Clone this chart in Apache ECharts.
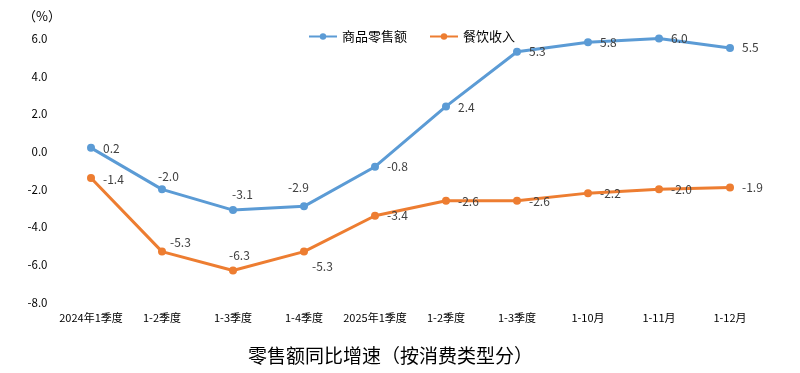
<!DOCTYPE html>
<html><head><meta charset="utf-8">
<script src="https://cdn.jsdelivr.net/npm/echarts@6/dist/echarts.min.js"></script>
<style>html,body{margin:0;padding:0;background:#fff}#c{width:800px;height:373px}</style>
</head><body><div id="c"></div>
<script>
var categories = ['2024年1季度','1-2季度','1-3季度','1-4季度','2025年1季度','1-2季度','1-3季度','1-10月','1-11月','1-12月'];
var goodsRetail = [0.2, -2.0, -3.1, -2.9, -0.8, 2.4, 5.3, 5.8, 6.0, 5.5];
var catering = [-1.4, -5.3, -6.3, -5.3, -3.4, -2.6, -2.6, -2.2, -2.0, -1.9];
var seriesNames = ['商品零售额', '餐饮收入'];
var chartTitle = '零售额同比增速（按消费类型分）';

var goodsLabelOffsets = [[0,1],[-16,-13],[-13,-16],[-28,-19],[0,0],[0,1],[0,0],[0,0],[0,0],[0,0]];
var cateringLabelOffsets = [[0,1],[-4,-9],[-16,-15],[-4,15],[0,0],[0,1],[0,1],[0,0],[0,0],[0,0]];

function build(vals, offs){
  return vals.map(function(v,i){
    return {value:v, label:{offset:offs[i]}};
  });
}
var font = '"Noto Sans CJK SC", "Noto Sans", sans-serif';
var chart = echarts.init(document.getElementById('c'), null, {renderer:'canvas'});
chart.setOption({
  animation:false,
  textStyle:{fontFamily:font},
  graphic:[{type:'text', left:23, top:10, style:{text:'（%）', fontSize:13, fill:'#000', fontFamily:font}}],
  title:{text:chartTitle, left:243, top:341, textStyle:{fontSize:19, fontWeight:'normal', color:'#000', fontFamily:font}},
  legend:{left:303, top:25, itemWidth:28, itemHeight:8, itemGap:22, textStyle:{fontSize:13, color:'#000', fontFamily:font}, data:seriesNames},
  grid:{left:55.5, right:34.5, top:38.5, bottom:70.5},
  xAxis:{type:'category', data:categories, boundaryGap:true,
    axisLine:{show:false}, axisTick:{show:false},
    axisLabel:{fontSize:11, color:'#000', margin:10, interval:0, fontFamily:font}},
  yAxis:{type:'value', min:-8, max:6, interval:2,
    axisLine:{show:false}, axisTick:{show:false}, splitLine:{show:false},
    axisLabel:{fontSize:11.5, color:'#000', margin:8, formatter:function(v){return v.toFixed(1);}, fontFamily:font}},
  series:[
    {name:seriesNames[0], type:'line', data:build(goodsRetail, goodsLabelOffsets),
     symbol:'circle', symbolSize:8, lineStyle:{width:3, color:'#5B9BD5'}, itemStyle:{color:'#5B9BD5'},
     label:{show:true, position:'right', distance:8, fontSize:12, color:'#404040', formatter:function(p){return p.value.toFixed(1);}}},
    {name:seriesNames[1], type:'line', data:build(catering, cateringLabelOffsets),
     symbol:'circle', symbolSize:8, lineStyle:{width:3, color:'#ED7D31'}, itemStyle:{color:'#ED7D31'},
     label:{show:true, position:'right', distance:8, fontSize:12, color:'#404040', formatter:function(p){return p.value.toFixed(1);}}}
  ]
});
</script></body></html>
